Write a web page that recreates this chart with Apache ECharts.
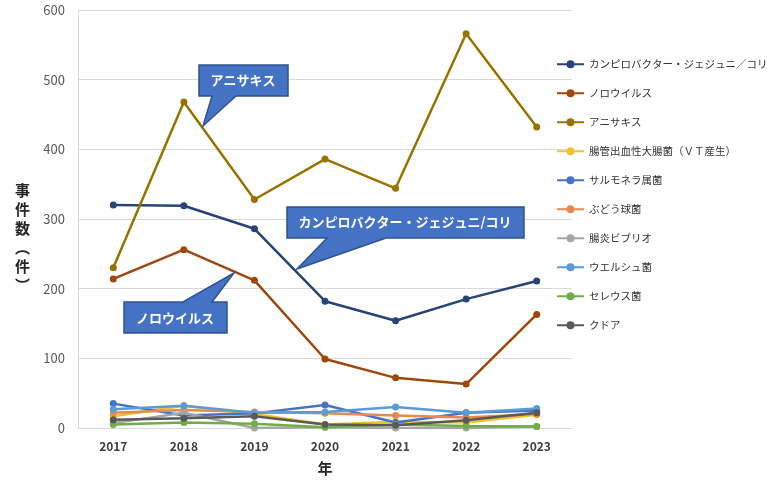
<!DOCTYPE html>
<html>
<head>
<meta charset="utf-8">
<script src="https://cdn.jsdelivr.net/npm/echarts@6/dist/echarts.min.js"></script>
<style>
body { margin: 0; background: #fff; }
#main { width: 767px; height: 489px; }
</style>
</head>
<body>
<div id="main"></div>
<script>
var years = ['2017', '2018', '2019', '2020', '2021', '2022', '2023'];
var names = ['カンピロバクター・ジェジュニ／コリ', 'ノロウイルス', 'アニサキス', '腸管出血性大腸菌（ＶＴ産生）',
    'サルモネラ属菌', 'ぶどう球菌', '腸炎ビブリオ', 'ウエルシュ菌', 'セレウス菌', 'クドア'];
var campylo = [320, 319, 286, 182, 154, 185, 211];
var noro = [214, 256, 212, 99, 72, 63, 163];
var anisakis = [230, 468, 328, 386, 344, 566, 432];
var ehec = [17, 32, 20, 5, 9, 8, 19];
var salmonella = [35, 18, 21, 33, 8, 22, 25];
var staph = [22, 26, 23, 21, 18, 15, 20];
var vibrio = [7, 22, 0, 1, 0, 0, 2];
var welchii = [27, 32, 22, 23, 30, 22, 28];
var cereus = [5, 8, 6, 1, 5, 3, 2];
var kudoa = [12, 14, 17, 5, 4, 11, 22];
var colors = ['#264478', '#9e480e', '#997300', '#f2c12e', '#4472c4', '#e48a4c', '#a5a5a5', '#5b9bd5', '#70ad47', '#595959'];
var allData = [campylo, noro, anisakis, ehec, salmonella, staph, vibrio, welchii, cereus, kudoa];

var font = '"Noto Sans CJK JP", "Noto Sans", sans-serif';
var myChart = echarts.init(document.getElementById('main'));

var series = names.map(function (n, i) {
    return {
        name: n,
        type: 'line',
        data: allData[i],
        symbol: 'circle',
        symbolSize: 7,
        lineStyle: { width: 2.5, color: colors[i] },
        itemStyle: { color: colors[i] }
    };
});

function callout(points, text, cx, cy) {
    return [{
        type: 'polygon',
        shape: { points: points },
        style: { fill: '#4472c4', stroke: '#2f528f', lineWidth: 1.5 },
        z: 100
    }, {
        type: 'text',
        x: cx, y: cy,
        style: { text: text, fill: '#fff', font: 'bold 13px ' + font, align: 'center', verticalAlign: 'middle' },
        z: 101
    }];
}

var graphics = [].concat(
    callout([[199, 65], [288, 65], [288, 96], [236, 96], [203, 126], [212, 96], [199, 96]], 'アニサキス', 243, 80),
    callout([[287, 207], [524, 207], [524, 238], [386, 238], [297, 269], [327, 238], [287, 238]], 'カンピロバクター・ジェジュニ/コリ', 405, 222),
    callout([[124, 302], [183, 302], [234, 273], [212, 302], [227, 302], [227, 333], [124, 333]], 'ノロウイルス', 175, 318)
);

option = {
    color: colors,
    textStyle: { fontFamily: font },
    grid: { left: 78, right: 195, top: 10, bottom: 61 },
    legend: {
        orient: 'vertical',
        left: 551,
        top: 54,
        itemWidth: 27,
        itemHeight: 10,
        itemGap: 18.5,
        textStyle: { fontSize: 10.5, color: '#333333', fontFamily: font },
        data: names
    },
    xAxis: {
        type: 'category',
        data: years,
        name: '年',
        nameLocation: 'middle',
        nameGap: 33,
        nameTextStyle: { fontSize: 15, fontWeight: 'bold', color: '#262626' },
        axisLine: { lineStyle: { color: '#d9d9d9' } },
        axisTick: { show: false },
        axisLabel: { fontSize: 12, fontWeight: 'bold', color: '#404040', margin: 12 }
    },
    yAxis: {
        type: 'value',
        min: 0,
        max: 600,
        interval: 100,
        name: '\n\n事\n件\n数\n︵\n件\n︶',
        nameLocation: 'middle',
        nameRotate: 0,
        nameGap: 48,
        nameTextStyle: { fontSize: 15, fontWeight: 'bold', color: '#262626', lineHeight: 19 },
        axisLine: { show: true, lineStyle: { color: '#d9d9d9' } },
        splitLine: { lineStyle: { color: '#d9d9d9' } },
        axisLabel: { fontSize: 13, color: '#595959', margin: 13 }
    },
    graphic: graphics,
    series: series
};

myChart.setOption(option);
</script>
</body>
</html>
